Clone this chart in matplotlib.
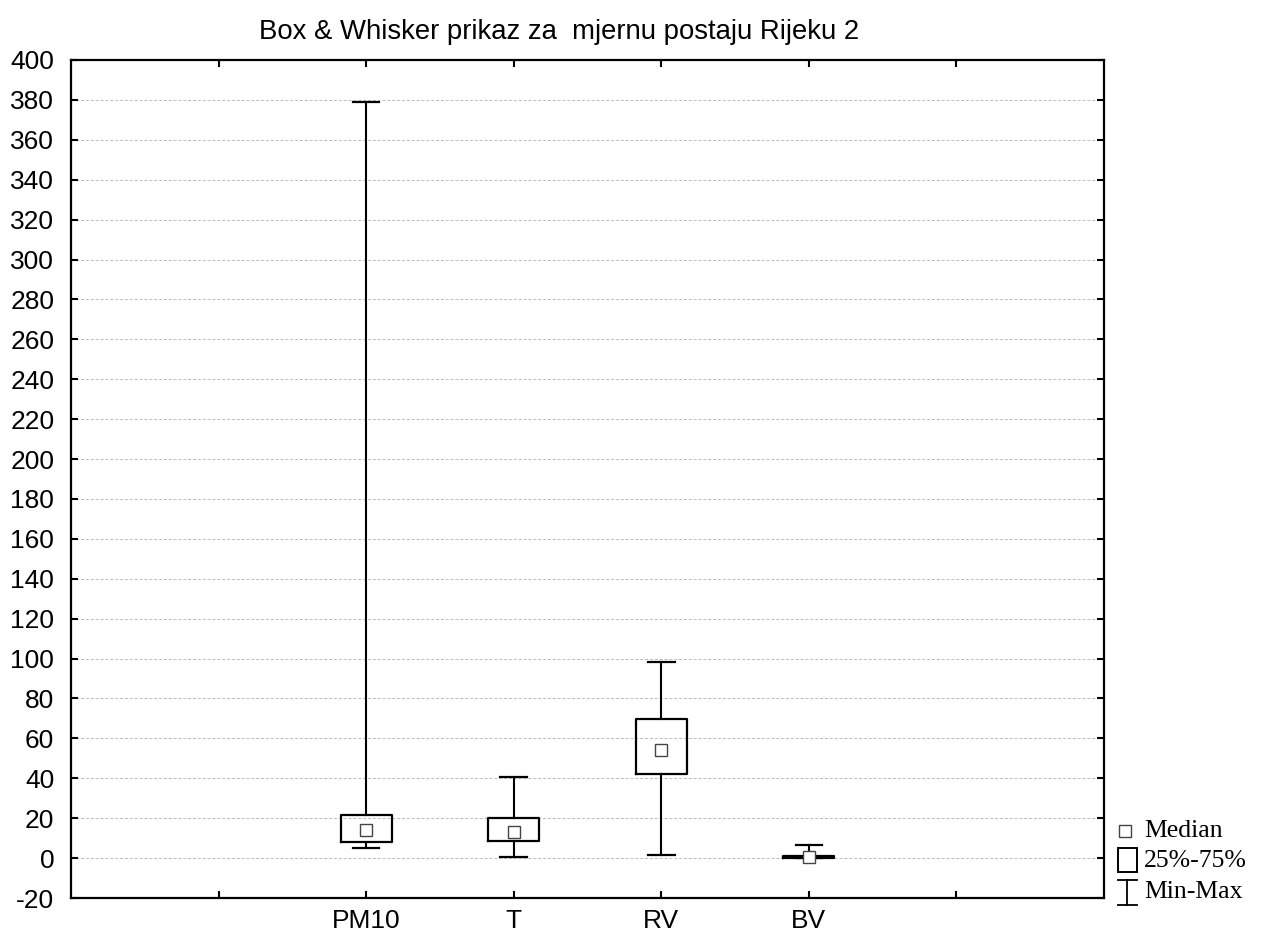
import matplotlib
matplotlib.use('Agg')
import matplotlib.pyplot as plt
from matplotlib.lines import Line2D
from matplotlib.patches import Rectangle

# data
categories = ['PM10', 'T', 'RV', 'BV']
mins = [5.2, 0.3, 1.5, 0.0]
q1 = [8.1, 8.6, 42.2, 0.0]
medians = [14.3, 13.3, 54.0, 0.6]
q3 = [21.6, 20.3, 69.5, 1.0]
maxs = [379.0, 40.6, 98.4, 6.5]

positions = [2, 3, 4, 5]

plt.rcParams['font.family'] = ['Liberation Sans', 'DejaVu Sans']
plt.rcParams['axes.unicode_minus'] = False

fig = plt.figure(figsize=(12.61, 9.4), dpi=100)
ax = fig.add_axes([71 / 1261, 1 - 898 / 940, (1104 - 71) / 1261, (898 - 60) / 940])

stats = []
for i in range(len(categories)):
    stats.append({'med': medians[i], 'q1': q1[i], 'q3': q3[i],
                  'whislo': mins[i], 'whishi': maxs[i], 'label': categories[i]})

ax.bxp(stats, positions=positions, widths=0.345, showfliers=False,
       boxprops=dict(color='black', linewidth=1.6),
       whiskerprops=dict(color='black', linewidth=1.5),
       capprops=dict(color='black', linewidth=1.6),
       medianprops=dict(linewidth=0),
       capwidths=0.18, zorder=3)

ax.plot(positions, medians, linestyle='none', marker='s', markersize=8,
        markerfacecolor='white', markeredgecolor='#444444', markeredgewidth=1.0, zorder=4)

ax.set_xlim(0, 7)
ax.set_ylim(-20, 400)
ax.set_yticks(range(-20, 401, 20))
ax.set_xticks([1, 2, 3, 4, 5, 6])
ax.set_xticklabels(['', 'PM10', 'T', 'RV', 'BV', ''])

for y in range(0, 381, 20):
    ax.axhline(y, color='#bbbbbb', linestyle=(0, (3, 2)), linewidth=0.7, zorder=1)

ax.tick_params(axis='both', direction='in', length=5, width=1.5, labelsize=19,
               top=True, right=True)
ax.tick_params(axis='y', pad=12)
ax.tick_params(axis='x', pad=8)
for s in ax.spines.values():
    s.set_linewidth(1.6)

fig.text(559 / 1261, 1 - 32 / 940, 'Box & Whisker prikaz za  mjernu postaju Rijeku 2',
         ha='center', va='center', fontsize=19.8)

# legend drawn outside the axes
W, H = 1261, 940
fig.add_artist(Line2D([1125 / W], [1 - 831 / H], marker='s', markersize=8, linestyle='none',
                      markerfacecolor='white', markeredgecolor='#444444', markeredgewidth=1.0,
                      transform=fig.transFigure))
fig.add_artist(Rectangle((1118 / W, 1 - 872 / H), 19 / W, 24 / H, fill=False,
                         edgecolor='black', linewidth=1.4, transform=fig.transFigure))
fig.add_artist(Line2D([1127 / W, 1127 / W], [1 - 880 / H, 1 - 905 / H], color='black',
                      linewidth=1.3, transform=fig.transFigure))
fig.add_artist(Line2D([1118 / W, 1137 / W], [1 - 880 / H, 1 - 880 / H], color='black',
                      linewidth=1.3, transform=fig.transFigure))
fig.add_artist(Line2D([1118 / W, 1137 / W], [1 - 905 / H, 1 - 905 / H], color='black',
                      linewidth=1.3, transform=fig.transFigure))
for label, yy in [('Median', 831), ('25%-75%', 861), ('Min-Max', 892)]:
    fig.text(1144 / W, 1 - yy / H, label, ha='left', va='center', fontsize=18.5,
             family=['Liberation Serif', 'DejaVu Serif'])

fig.savefig('out.png', dpi=100)
